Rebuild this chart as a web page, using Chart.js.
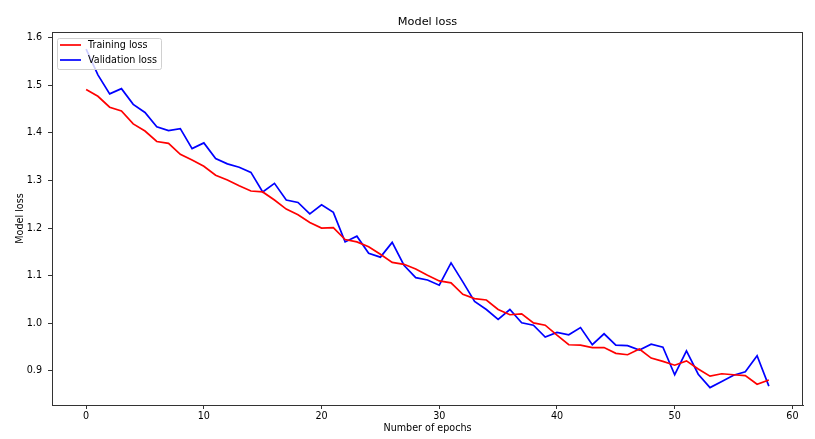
<!DOCTYPE html>
<html>
<head>
    <script src="https://cdn.jsdelivr.net/npm/chart.js@4.4.1/dist/chart.umd.min.js"></script>
    <style>
        body { margin: 0; background: #fff; }
        #wrap { width: 815px; height: 439px; }
    </style>
</head>
<body>
<div id="wrap">
    <canvas id="lossChart" width="815" height="439"></canvas>
</div>

<script>
    // values
    const epochs = Array.from({length: 59}, (_, i) => i);
    const trainingLoss = [
        1.491, 1.477, 1.454, 1.446, 1.419, 1.404, 1.382, 1.378, 1.355, 1.343,
        1.330, 1.311, 1.301, 1.289, 1.278, 1.276, 1.259, 1.240, 1.228, 1.212,
        1.200, 1.201, 1.176, 1.171, 1.161, 1.145, 1.128, 1.124, 1.114, 1.101,
        1.089, 1.085, 1.061, 1.052, 1.049, 1.029, 1.018, 1.020, 1.001, 0.996,
        0.975, 0.955, 0.954, 0.949, 0.949, 0.937, 0.934, 0.946, 0.927, 0.920,
        0.912, 0.921, 0.904, 0.889, 0.894, 0.892, 0.890, 0.872, 0.881
    ];
    const validationLoss = [
        1.576, 1.522, 1.482, 1.493, 1.460, 1.443, 1.413, 1.405, 1.409, 1.367,
        1.379, 1.346, 1.335, 1.328, 1.317, 1.276, 1.294, 1.259, 1.254, 1.230,
        1.249, 1.233, 1.171, 1.183, 1.147, 1.139, 1.170, 1.122, 1.096, 1.091,
        1.080, 1.127, 1.087, 1.046, 1.029, 1.008, 1.029, 1.001, 0.996, 0.971,
        0.981, 0.976, 0.991, 0.955, 0.978, 0.954, 0.953, 0.944, 0.956, 0.950,
        0.892, 0.942, 0.893, 0.865, 0.878, 0.891, 0.898, 0.932, 0.868
    ];
    const xTicks = [0, 10, 20, 30, 40, 50, 60];
    const yTicks = [0.9, 1.0, 1.1, 1.2, 1.3, 1.4, 1.5, 1.6];

    const FONT = 'DejaVu Sans';
    Chart.defaults.font.family = FONT;
    Chart.defaults.color = '#000';

    // frame, title and legend drawn the way matplotlib does
    const decorations = {
        id: 'decorations',
        afterDatasetsDraw(chart) {
            const ctx = chart.ctx;
            const a = chart.chartArea;
            ctx.save();
            ctx.strokeStyle = '#333';
            ctx.lineWidth = 1;
            ctx.strokeRect(a.left + 0.5, a.top + 0.5, a.right - a.left - 1, a.bottom - a.top);

            ctx.fillStyle = '#000';
            ctx.font = '11.3px "' + FONT + '"';
            ctx.textAlign = 'center';
            ctx.textBaseline = 'middle';
            ctx.fillText('Model loss', (a.left + a.right) / 2, 22);

            // legend box
            const bx = 57, by = 38, bw = 104, bh = 31;
            ctx.fillStyle = 'rgba(255,255,255,0.8)';
            ctx.strokeStyle = '#d0d0d0';
            ctx.beginPath();
            ctx.roundRect(bx + 0.5, by + 0.5, bw, bh, 2);
            ctx.fill();
            ctx.stroke();
            ctx.font = '9.6px "' + FONT + '"';
            ctx.textAlign = 'left';
            chart.data.datasets.forEach((ds, i) => {
                const y = 45 + i * 15;
                ctx.strokeStyle = ds.borderColor;
                ctx.lineWidth = 1.7;
                ctx.beginPath();
                ctx.moveTo(60, y);
                ctx.lineTo(81, y);
                ctx.stroke();
                ctx.fillStyle = '#000';
                ctx.fillText(ds.label, 88, y + 0.5);
            });
            ctx.restore();
        }
    };

    new Chart(document.getElementById('lossChart'), {
        type: 'line',
        data: {
            labels: epochs,
            datasets: [{
                label: 'Training loss',
                data: trainingLoss,
                borderColor: 'red',
                borderWidth: 1.7,
                pointRadius: 0,
                tension: 0,
                fill: false
            }, {
                label: 'Validation loss',
                data: validationLoss,
                borderColor: 'blue',
                borderWidth: 1.7,
                pointRadius: 0,
                tension: 0,
                fill: false
            }]
        },
        options: {
            responsive: false,
            animation: false,
            layout: {padding: {top: 32, right: 12, left: 0, bottom: 0}},
            plugins: {
                legend: {display: false},
                title: {display: false},
                tooltip: {enabled: false}
            },
            scales: {
                x: {
                    type: 'linear',
                    min: -2.9,
                    max: 60.9,
                    afterBuildTicks: s => { s.ticks = xTicks.map(v => ({value: v})); },
                    afterFit: s => { s.height = 34; },
                    grid: {drawOnChartArea: false, drawTicks: true, tickLength: 4, color: '#333'},
                    border: {display: true, color: '#333', width: 1},
                    ticks: {padding: 2, font: {size: 9.6}, maxRotation: 0},
                    title: {display: true, text: 'Number of epochs', font: {size: 9.6}, padding: {top: 0, bottom: 5}}
                },
                y: {
                    min: 0.8284,
                    max: 1.612,
                    afterBuildTicks: s => { s.ticks = yTicks.map(v => ({value: v})); },
                    afterFit: s => { s.width = 52; },
                    grid: {drawOnChartArea: false, drawTicks: true, tickLength: 4, color: '#333'},
                    border: {display: true, color: '#333', width: 1},
                    ticks: {padding: 6, font: {size: 9.6}, callback: v => v.toFixed(1)},
                    title: {display: true, text: 'Model loss', font: {size: 9.6}, padding: {top: 15, bottom: 0}}
                }
            }
        },
        plugins: [decorations]
    });
</script>
</body>
</html>
